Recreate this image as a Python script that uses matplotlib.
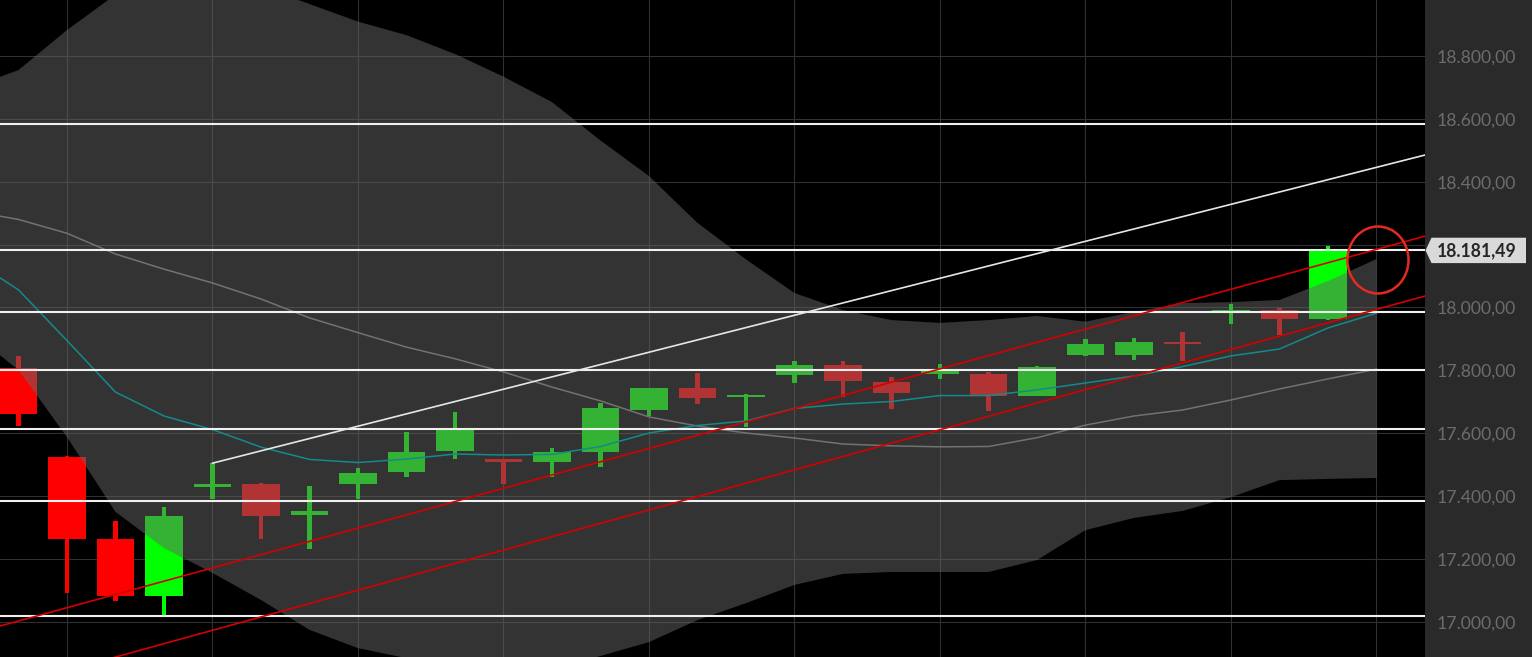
import numpy as np
import matplotlib
matplotlib.use("Agg")
import matplotlib.pyplot as plt
from matplotlib.patches import Polygon, Ellipse

plt.rcParams['font.family'] = ['Lato', 'DejaVu Sans']

# ---- candle data (index 0..27) ----
opens  = [17807, 17526, 17263, 17083, 17428, 17440, 17340, 17440, 17476, 17543,
          17518, 17509, 17541, 17674, 17743, 17714, 17785, 17817, 17764, 17789,
          17789, 17720, 17849, 17849, 17890, 17981, 17992, 17963]
closes = [17662, 17263, 17083, 17338, 17439, 17338, 17353, 17475, 17541, 17613,
          17509, 17540, 17680, 17743, 17713, 17723, 17817, 17766, 17729, 17799,
          17720, 17812, 17883, 17891, 17885, 17992, 17963, 18181.49]
highs  = [17846, 17528, 17321, 17367, 17505, 17442, 17433, 17489, 17605, 17669,
          17518, 17552, 17697, 17745, 17791, 17725, 17830, 17830, 17780, 17820,
          17796, 17814, 17899, 17904, 17923, 18011, 17997, 18196]
lows   = [17623, 17091, 17067, 17023, 17390, 17263, 17233, 17390, 17462, 17517,
          17439, 17460, 17492, 17655, 17692, 17619, 17761, 17714, 17678, 17772,
          17672, 17718, 17847, 17833, 17830, 17947, 17913, 17960]

# ---- indicator data (index -1..28) ----
band_idx = list(range(-1, 29))
band_upper = [18698, 18755, 18882, 18995, 19050, 19060, 19020, 18965, 18909, 18866,
              18806, 18734, 18653, 18531, 18418, 18269, 18153, 18046, 17992, 17960,
              17951, 17960, 17973, 17955, 17986, 18014, 18017, 18024, 18084, 18154]
band_lower = [17925, 17801, 17588, 17350, 17235, 17156, 17070, 16975, 16917, 16885,
              16845, 16830, 16850, 16892, 16936, 17006, 17060, 17118, 17153, 17159,
              17159, 17159, 17197, 17292, 17331, 17353, 17397, 17451, 17455, 17458]
band_mid   = [18307, 18280, 18236, 18170, 18122, 18078, 18027, 17967, 17920, 17874,
              17837, 17795, 17747, 17703, 17652, 17623, 17601, 17585, 17566, 17560,
              17557, 17558, 17586, 17626, 17655, 17674, 17706, 17741, 17773, 17804]
ma_fast    = [18157, 18056, 17895, 17731, 17655, 17612, 17556, 17517, 17507, 17518,
              17534, 17531, 17533, 17558, 17601, 17625, 17639, 17679, 17693, 17701,
              17720, 17720, 17738, 17760, 17782, 17812, 17846, 17868, 17935, 17982]

# horizontal levels
levels = [18583, 18181.49, 17986, 17800, 17614, 17385, 17018]
# trend lines: (x0, y0, x1, y1) in index / price
white_trend = (4, 17505, 30, 18524)
red_upper   = (-1, 16961, 30, 18269)
red_lower   = (-1, 16761, 30, 18079)

y_ticks = [17000, 17200, 17400, 17600, 17800, 18000, 18200, 18400, 18600, 18800]

W, H = 1532, 657
fig = plt.figure(figsize=(W / 100, H / 100), dpi=100, facecolor='#2a2a2a')
ax = fig.add_axes([0, 0, 1425 / W, 1])
ax.set_facecolor('black')
ax.set_xlim(-0.381, 29.0)
ax.set_ylim(16888.7, 18977.7)

for s in ax.spines.values():
    s.set_visible(False)

ax.set_axisbelow(True)
ax.set_xticks(np.arange(1, 29, 3))
ax.set_yticks(y_ticks)
ax.grid(True, color='#303030', lw=0.8)
ax.tick_params(axis='x', length=0, labelbottom=False)
ax.yaxis.tick_right()
ax.tick_params(axis='y', length=0, pad=8.6, labelsize=12.7, labelcolor='#6c6c6c')
ax.set_yticklabels([f"{v:,.2f}".replace(',', 'X').replace('.', ',').replace('X', '.')
                    for v in y_ticks])

# candles
xs = np.arange(len(opens))
o = np.array(opens); c = np.array(closes); h = np.array(highs); l = np.array(lows)
cols = np.where(c >= o, '#00ff00', '#ff0000')
ax.bar(xs, h - l, bottom=l, width=0.085, color=cols, lw=0, zorder=2)
ax.bar(xs, np.abs(c - o), bottom=np.minimum(o, c), width=0.77, color=cols, lw=0, zorder=2)

# band overlay
ax.fill_between(band_idx, band_lower, band_upper, color='#666666', alpha=0.5, lw=0, zorder=3)
ax.plot(band_idx, band_mid, color='#727272', lw=1.1, zorder=4)
ax.plot(band_idx, ma_fast, color='#148a8a', lw=1.1, zorder=4)

# levels
for lv in levels:
    ax.axhline(lv, color='#f0f0f0', lw=1.5, zorder=5)

ax.plot([white_trend[0], white_trend[2]], [white_trend[1], white_trend[3]],
        color='#e6e6e6', lw=1.2, zorder=5)
for t in (red_upper, red_lower):
    ax.plot([t[0], t[2]], [t[1], t[3]], color='#d40000', lw=1.2, zorder=5)

# hand-drawn circle annotation
ax.add_patch(Ellipse((28.03, 18151), 1.26, 213, angle=0, fill=False,
                     edgecolor='#e42a22', lw=1.8, zorder=6))

# price label
fig.canvas.draw()
yd = ax.transData.transform((0, closes[-1]))[1]
yf = yd / H
hh = 12.7 / H
poly = Polygon([(1425.5 / W, yf), (1431.5 / W, yf + hh), (1526 / W, yf + hh),
                (1526 / W, yf - hh), (1431.5 / W, yf - hh)],
               closed=True, transform=fig.transFigure, facecolor='#d9d9d9',
               edgecolor='none', zorder=10)
fig.patches.append(poly)
lbl = f"{closes[-1]:,.2f}".replace(',', 'X').replace('.', ',').replace('X', '.')
fig.text(1436.5 / W, yf, lbl, ha='left', va='center', fontsize=12.7,
         fontweight='bold', color='#262626', zorder=11)

fig.savefig('out.png', dpi=100, facecolor=fig.get_facecolor())
